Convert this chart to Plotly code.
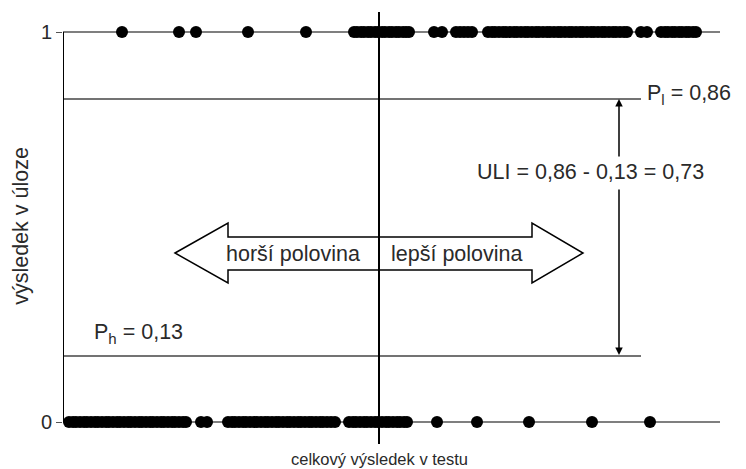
import plotly.graph_objects as go

# total test score (x) of students who solved the item (y = 1)
score_correct = [59, 116, 133, 185, 243,
                 291, 294, 298, 301, 305, 308, 312, 315, 319, 322, 326, 329, 333, 336, 340, 343, 346,
                 371, 379,
                 393, 397, 401, 405, 409,
                 425, 429, 432, 436, 440, 443, 447, 451, 454, 458, 462, 465, 469, 473, 476, 480,
                 484, 487, 491, 495, 498, 502, 506, 509, 513, 517, 520, 524, 528, 531, 535, 539,
                 542, 546, 550, 553, 557, 561, 564,
                 578, 584,
                 598, 602, 605, 609, 612, 616, 619, 623, 626, 630, 633]
# total test score (x) of students who failed the item (y = 0)
score_wrong = [6, 10, 13, 17, 21, 24, 28, 32, 35, 39, 43, 46, 50, 54, 57, 61, 65, 68, 72, 76, 79,
               83, 87, 90, 94, 98, 101, 105, 109, 112, 116, 120, 123,
               138, 144,
               165, 169, 172, 176, 180, 183, 187, 191, 194, 198, 202, 205, 209, 213, 216, 220,
               224, 227, 231, 235, 238, 242, 246, 249, 253, 257, 260, 264, 268, 272,
               286, 290, 293, 297, 301, 304, 308, 312, 315, 319, 323, 326, 330, 334, 337, 341, 344,
               374, 414, 466, 529, 587]

median_score = 316
p_lower = 0.828   # drawn level of P_l line
p_higher = 0.169  # drawn level of P_h line
y_ticks = [0, 1]
y_tick_text = ["0", "1"]

FONT = "Liberation Sans, Arial, sans-serif"
TXT = "#2a2a2a"
FS = 21.5

fig = go.Figure()
fig.add_trace(go.Scatter(x=score_correct, y=[1] * len(score_correct), mode="markers",
                         marker=dict(size=12, color="black"), hoverinfo="skip"))
fig.add_trace(go.Scatter(x=score_wrong, y=[0] * len(score_wrong), mode="markers",
                         marker=dict(size=12, color="black"), hoverinfo="skip"))

shapes = []
# horizontal lines at 0 and 1
for yv in y_ticks:
    shapes.append(dict(type="line", xref="x", yref="y", x0=0, x1=657, y0=yv, y1=yv,
                       line=dict(color="#555555", width=1.5), layer="below"))
# P lines
for yv in (p_lower, p_higher):
    shapes.append(dict(type="line", xref="x", yref="y", x0=0, x1=578, y0=yv, y1=yv,
                       line=dict(color="#444444", width=1.5), layer="below"))
# left axis line
shapes.append(dict(type="line", xref="x", yref="y", x0=0, x1=0, y0=0, y1=1,
                   line=dict(color="black", width=2), layer="below"))
# double arrow
arrow_path = ("M 112,0.4333 L 165,0.5103 L 165,0.4744 L 469,0.4744 L 469,0.5103 "
              "L 520,0.4333 L 469,0.3564 L 469,0.3897 L 165,0.3897 L 165,0.3564 Z")
shapes.append(dict(type="path", xref="x", yref="y", path=arrow_path,
                   fillcolor="white", line=dict(color="black", width=1.5), layer="above"))
# median vertical line
shapes.append(dict(type="line", xref="x", yref="paper", x0=median_score, x1=median_score,
                   y0=0, y1=1, line=dict(color="black", width=2), layer="above"))

ann = []
ann.append(dict(x=230, y=0.432, xref="x", yref="y", text="horší polovina", showarrow=False,
                font=dict(size=FS, color=TXT, family=FONT)))
ann.append(dict(x=394, y=0.432, xref="x", yref="y", text="lepší polovina", showarrow=False,
                font=dict(size=FS, color=TXT, family=FONT)))
ann.append(dict(x=527, y=0.641, xref="x", yref="y", text="ULI = 0,86 - 0,13 = 0,73",
                showarrow=False, font=dict(size=FS, color=TXT, family=FONT)))
ann.append(dict(x=582, y=0.84, xref="x", yref="y", text="P<sub>l</sub> = 0,86",
                showarrow=False, xanchor="left", font=dict(size=FS, color=TXT, family=FONT)))
ann.append(dict(x=29, y=0.226, xref="x", yref="y", text="P<sub>h</sub> = 0,13",
                showarrow=False, xanchor="left", font=dict(size=FS, color=TXT, family=FONT)))
# ULI vertical arrows
ann.append(dict(x=556, y=p_lower, ax=556, ay=0.677, xref="x", yref="y", axref="x", ayref="y",
                text="", showarrow=True, arrowhead=2, arrowsize=1, arrowwidth=1.5,
                arrowcolor="black"))
ann.append(dict(x=556, y=p_higher + 0.003, ax=556, ay=0.6, xref="x", yref="y", axref="x",
                ayref="y", text="", showarrow=True, arrowhead=2, arrowsize=1, arrowwidth=1.5,
                arrowcolor="black"))
# axis titles
ann.append(dict(x=0.482, y=-0.034, xref="paper", yref="paper", yanchor="middle",
                text="celkový výsledek v testu", showarrow=False,
                font=dict(size=16.5, color=TXT, family=FONT)))
ann.append(dict(x=-0.0639, y=0.505, xref="paper", yref="paper", xanchor="center",
                yanchor="middle", text="výsledek v úloze", borderpad=0,
                showarrow=False, textangle=-90, font=dict(size=21.5, color=TXT, family=FONT)))

# page adds an 8px body margin, so the figure is reduced by 8px on each axis
fig.update_layout(
    width=738, height=461,
    margin=dict(l=55, r=26, t=4, b=25),
    paper_bgcolor="white", plot_bgcolor="white",
    showlegend=False,
    shapes=shapes, annotations=ann,
    xaxis=dict(range=[0, 657], visible=False, fixedrange=True),
    yaxis=dict(range=[-0.05641, 1.05128], tickvals=y_ticks, ticktext=y_tick_text,
               showgrid=False, zeroline=False, showline=False, ticks="outside", ticklen=6,
               tickcolor="#555555", tickfont=dict(size=20, color=TXT, family=FONT)),
)

fig.write_html("out.html")
